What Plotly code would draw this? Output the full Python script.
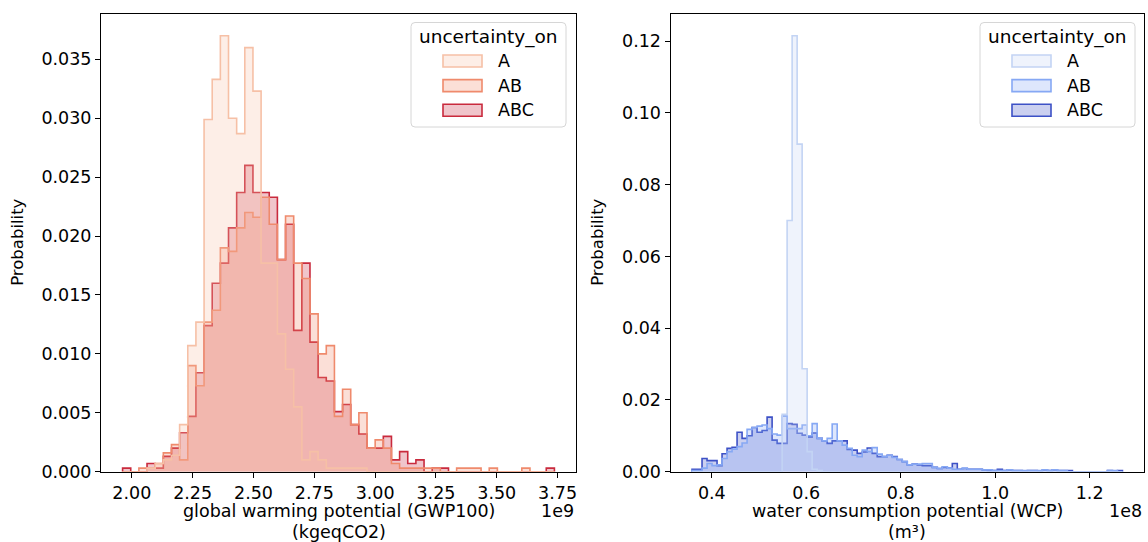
import numpy as np
import plotly.graph_objects as go

# ---------------- data ----------------
# Left panel: global warming potential, x in units of 1e9 kgeqCO2
gwp_bin_start = 1.962
gwp_bin_width = 0.03349
gwp_A = [0, 0, 0, 0.0003, 0.0007, 0.0010, 0.0014, 0.0040, 0.0107, 0.0127,
         0.0299, 0.0333, 0.0370, 0.0300, 0.0287, 0.0360, 0.0323, 0.0177, 0.0177, 0.0117,
         0.0087, 0.0055, 0.0010, 0.0017, 0.0010, 0.0003, 0.0003, 0.0003, 0.0003, 0.0003,
         0, 0, 0, 0, 0, 0, 0, 0, 0, 0,
         0, 0, 0, 0, 0, 0, 0, 0, 0, 0,
         0, 0, 0]
gwp_AB = [0, 0, 0.0003, 0.0003, 0.0007, 0.0016, 0.0023, 0.0010, 0.0090, 0.0073,
          0.0127, 0.0137, 0.0190, 0.0187, 0.0207, 0.0220, 0.0216, 0.0233, 0.0210, 0.0180,
          0.0217, 0.0177, 0.0164, 0.0134, 0.0100, 0.0107, 0.0047, 0.0070, 0.0040, 0.0050,
          0.0020, 0.0027, 0.0020, 0.0007, 0.0003, 0.0003, 0.0003, 0.0003, 0.0003, 0,
          0, 0.0003, 0.0003, 0.0003, 0, 0.0003, 0, 0, 0, 0.0003,
          0, 0, 0]
gwp_ABC = [0.0003, 0, 0, 0.0007, 0.0003, 0.0013, 0.0020, 0.0033, 0.0047, 0.0084,
           0.0124, 0.0160, 0.0177, 0.0207, 0.0237, 0.0260, 0.0237, 0.0237, 0.0233, 0.0180,
           0.0210, 0.0120, 0.0177, 0.0110, 0.0080, 0.0077, 0.0051, 0.0057, 0.0040, 0.0032,
           0.0020, 0.0020, 0.0030, 0.0010, 0.0017, 0.0007, 0.0010, 0, 0.0003, 0.0003,
           0, 0, 0, 0, 0, 0, 0, 0, 0, 0,
           0, 0, 0.0003]
gwp_xticks = [2.00, 2.25, 2.50, 2.75, 3.00, 3.25, 3.50, 3.75]

# Right panel: water consumption potential, x in units of 1e8 m3
wcp_bin_start = 0.358
wcp_bin_width = 0.0106
wcp_A = [0, 0, 0, 0, 0, 0, 0, 0, 0, 0,
         0, 0, 0, 0, 0, 0, 0, 0, 0.0160, 0.0700,
         0.1215, 0.0913, 0.0287, 0.0056, 0.0007, 0.0003, 0, 0, 0, 0,
         0, 0, 0, 0, 0, 0, 0, 0, 0, 0,
         0, 0, 0, 0, 0, 0, 0, 0, 0, 0,
         0, 0, 0, 0, 0, 0, 0, 0, 0, 0,
         0, 0, 0, 0, 0, 0, 0, 0, 0, 0,
         0, 0, 0, 0, 0, 0, 0, 0, 0, 0,
         0, 0, 0, 0, 0, 0]
wcp_AB = [0.0003, 0.0003, 0.0010, 0.0023, 0.0017, 0.0019, 0.0037, 0.0056, 0.0063, 0.0070,
          0.0080, 0.0118, 0.0123, 0.0127, 0.0130, 0.0120, 0.0105, 0.0102, 0.0155, 0.0120,
          0.0120, 0.0120, 0.0130, 0.0100, 0.0134, 0.0093, 0.0086, 0.0093, 0.0133, 0.0086,
          0.0074, 0.0065, 0.0046, 0.0042, 0.0060, 0.0056, 0.0067, 0.0049, 0.0042, 0.0046,
          0.0040, 0.0034, 0.0028, 0.0019, 0.0021, 0.0021, 0.0023, 0.0023, 0.0012, 0.0009,
          0.0014, 0.0010, 0.0007, 0.0007, 0.0010, 0.0007, 0.0007, 0.0007, 0.0005, 0.0005,
          0.0003, 0.0003, 0.0003, 0.0005, 0.0003, 0.0003, 0.0003, 0.0003, 0.0003, 0.0003,
          0.0005, 0.0003, 0.0005, 0.0003, 0.0003, 0, 0, 0, 0, 0,
          0, 0, 0, 0.0003, 0.0003, 0]
wcp_ABC = [0.0007, 0.0007, 0.0037, 0.0031, 0.0031, 0.0017, 0.0050, 0.0065, 0.0068, 0.0110,
           0.0093, 0.0100, 0.0123, 0.0110, 0.0115, 0.0152, 0.0088, 0.0079, 0.0079, 0.0134,
           0.0132, 0.0107, 0.0102, 0.0097, 0.0108, 0.0093, 0.0086, 0.0079, 0.0086, 0.0086,
           0.0086, 0.0062, 0.0060, 0.0051, 0.0055, 0.0066, 0.0051, 0.0042, 0.0042, 0.0046,
           0.0042, 0.0034, 0.0028, 0.0019, 0.0021, 0.0019, 0.0017, 0.0017, 0.0012, 0.0009,
           0.0012, 0.0010, 0.0023, 0.0007, 0.0009, 0.0007, 0.0007, 0.0007, 0.0005, 0.0003,
           0.0003, 0.0007, 0.0003, 0.0005, 0.0003, 0.0003, 0.0002, 0.0003, 0.0003, 0.0002,
           0.0005, 0.0003, 0.0005, 0.0003, 0.0003, 0.0003, 0, 0, 0, 0,
           0, 0, 0, 0.0003, 0.0002, 0.0003]
wcp_xticks = [0.4, 0.6, 0.8, 1.0, 1.2]

categories = ["A", "AB", "ABC"]
left_colors = {"A": "#f6c0a6", "AB": "#ef8a6c", "ABC": "#c92a3d"}
right_colors = {"A": "#c3d4f4", "AB": "#86a8f4", "ABC": "#3d51c6"}
FILL_ALPHA = 0.27

# ---------------- helpers ----------------
def hex_rgba(h, a):
    h = h.lstrip("#")
    r, g, b = int(h[0:2], 16), int(h[2:4], 16), int(h[4:6], 16)
    return f"rgba({r},{g},{b},{a})"

def step_xy(start, width, heights):
    h = np.asarray(heights, dtype=float)
    edges = start + width * np.arange(len(h) + 1)
    x = np.concatenate([[edges[0]], edges])
    y = np.concatenate([[0.0], h, [0.0]])
    return x, y

def padded_range(start, width, n, frac=0.05):
    lo, hi = start, start + width * n
    pad = (hi - lo) * frac
    return [lo - pad, hi + pad]

FONT = "DejaVu Sans"
W, H = 1148, 542
L_X0, L_X1 = 101, 576
R_X0, R_X1 = 670.5, 1144
Y_TOP, Y_BOT = 14, 471.7
TICK_FS = 17.5
LABEL_FS = 17.5
LEG_FS = 17.5
LEG_TITLE_FS = 18.5

def px(x):
    return x / W

def py(y):
    return (H - y) / H

fig = go.Figure()

left_series = {"A": gwp_A, "AB": gwp_AB, "ABC": gwp_ABC}
right_series = {"A": wcp_A, "AB": wcp_AB, "ABC": wcp_ABC}

for cat in reversed(categories):
    x, y = step_xy(gwp_bin_start, gwp_bin_width, left_series[cat])
    fig.add_trace(go.Scatter(
        x=x, y=y, mode="lines", line=dict(shape="hv", color=left_colors[cat], width=1.6),
        fill="tozeroy", fillcolor=hex_rgba(left_colors[cat], FILL_ALPHA),
        name=cat, showlegend=False, xaxis="x", yaxis="y", hoverinfo="skip"))
for cat in reversed(categories):
    x, y = step_xy(wcp_bin_start, wcp_bin_width, right_series[cat])
    fig.add_trace(go.Scatter(
        x=x, y=y, mode="lines", line=dict(shape="hv", color=right_colors[cat], width=1.6),
        fill="tozeroy", fillcolor=hex_rgba(right_colors[cat], FILL_ALPHA),
        name=cat, showlegend=False, xaxis="x2", yaxis="y2", hoverinfo="skip"))

axis_common = dict(showline=True, linecolor="black", linewidth=1, mirror=True,
                   ticks="outside", ticklen=5, tickwidth=1, tickcolor="black",
                   showgrid=False, zeroline=False, automargin=False,
                   tickfont=dict(family=FONT, size=TICK_FS, color="black"))

ydom = [py(Y_BOT), py(Y_TOP)]
gwp_ymax = max(max(gwp_A), max(gwp_AB), max(gwp_ABC)) * 1.05
wcp_ymax = max(max(wcp_A), max(wcp_AB), max(wcp_ABC)) * 1.05

fig.update_layout(
    width=W, height=H, autosize=False, margin=dict(l=0, r=0, t=0, b=0, pad=0),
    paper_bgcolor="white", plot_bgcolor="white",
    font=dict(family=FONT, size=16, color="black"),
    showlegend=False,
    xaxis=dict(domain=[px(L_X0), px(L_X1)],
               range=padded_range(gwp_bin_start, gwp_bin_width, len(gwp_A)),
               tickvals=gwp_xticks, tickformat=".2f", anchor="y", **axis_common),
    yaxis=dict(domain=ydom, range=[0, gwp_ymax], dtick=0.005, tick0=0,
               tickformat=".3f", anchor="x", **axis_common),
    xaxis2=dict(domain=[px(R_X0), px(R_X1)],
                range=padded_range(wcp_bin_start, wcp_bin_width, len(wcp_A)),
                tickvals=wcp_xticks, tickformat=".1f", anchor="y2", **axis_common),
    yaxis2=dict(domain=ydom, range=[0, wcp_ymax], dtick=0.02, tick0=0,
                tickformat=".2f", anchor="x2", **axis_common),
)

def ann(text, x, y, size, xanchor="center", yanchor="middle", angle=0):
    fig.add_annotation(text=text, x=px(x), y=py(y), xref="paper", yref="paper",
                       xanchor=xanchor, yanchor=yanchor, showarrow=False, textangle=angle,
                       font=dict(family=FONT, size=size, color="black"))

ann("global warming potential (GWP100)", (L_X0 + L_X1) / 2, 511, LABEL_FS)
ann("(kgeqCO2)", (L_X0 + L_X1) / 2, 531.5, LABEL_FS)
ann("1e9", L_X1, 511, TICK_FS, xanchor="right")
ann("water consumption potential (WCP)", (R_X0 + R_X1) / 2, 511, LABEL_FS)
ann("(m³)", (R_X0 + R_X1) / 2, 531.5, LABEL_FS)
ann("1e8", R_X1, 511, TICK_FS, xanchor="right")
ann("Probability", 18, (Y_TOP + Y_BOT) / 2, 16.5, angle=-90)
ann("Probability", 598, (Y_TOP + Y_BOT) / 2, 16.5, angle=-90)

# ---------------- legends (matplotlib style frame) ----------------
def rounded_rect(x0, y0, x1, y1, r):
    return (f"M {px(x0 + r)},{py(y0)} L {px(x1 - r)},{py(y0)} "
            f"Q {px(x1)},{py(y0)} {px(x1)},{py(y0 + r)} "
            f"L {px(x1)},{py(y1 - r)} Q {px(x1)},{py(y1)} {px(x1 - r)},{py(y1)} "
            f"L {px(x0 + r)},{py(y1)} Q {px(x0)},{py(y1)} {px(x0)},{py(y1 - r)} "
            f"L {px(x0)},{py(y0 + r)} Q {px(x0)},{py(y0)} {px(x0 + r)},{py(y0)} Z")

def draw_legend(box_x0, box_x1, colors):
    box_y0, box_y1 = 22.5, 127
    fig.add_shape(type="path", path=rounded_rect(box_x0, box_y0, box_x1, box_y1, 4),
                  xref="paper", yref="paper", fillcolor="rgba(255,255,255,0.8)",
                  line=dict(color="#d6d6d6", width=1), layer="above")
    ann("uncertainty_on", (box_x0 + box_x1) / 2, 37, LEG_TITLE_FS)
    patch_x0 = box_x0 + 32
    patch_x1 = patch_x0 + 39
    for i, cat in enumerate(categories):
        yc = 61 + i * 24.6
        fig.add_shape(type="rect", x0=px(patch_x0), x1=px(patch_x1),
                      y0=py(yc + 6), y1=py(yc - 6), xref="paper", yref="paper",
                      fillcolor=hex_rgba(colors[cat], FILL_ALPHA),
                      line=dict(color=colors[cat], width=1.6), layer="above")
        ann(cat, patch_x1 + 14, yc, LEG_FS, xanchor="left")

draw_legend(411, 566, left_colors)
draw_legend(980, 1135, right_colors)

fig.write_html("out.html",
               config={"responsive": False, "displayModeBar": False},
               post_script="document.body.style.margin='0';"
                           "document.body.style.overflow='hidden';")
